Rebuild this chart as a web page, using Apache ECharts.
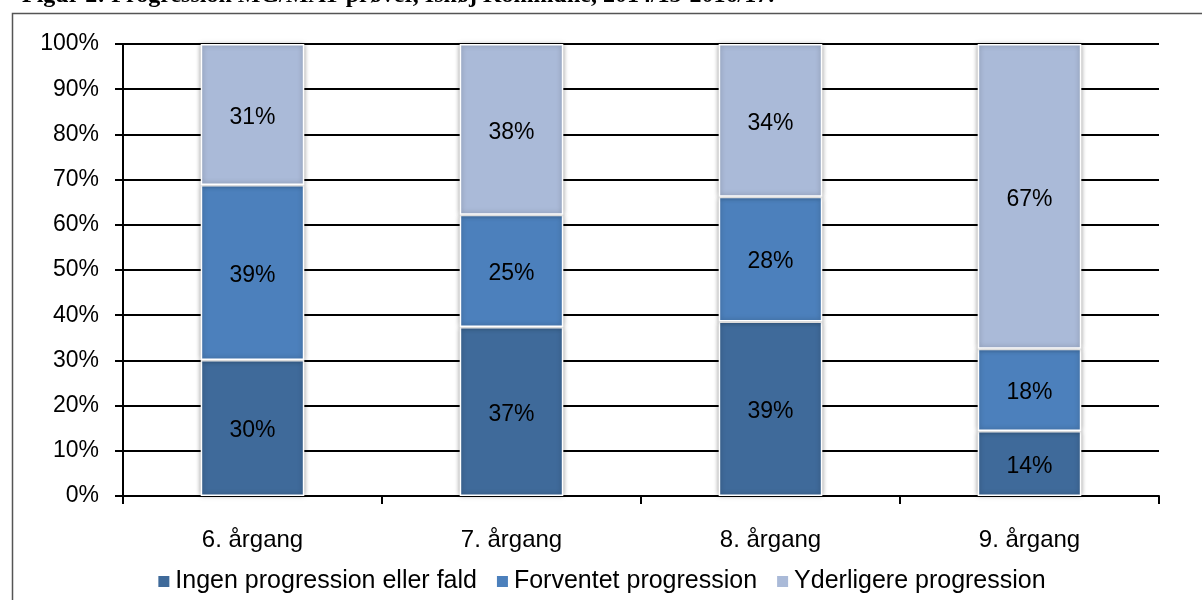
<!DOCTYPE html>
<html>
<head>
<meta charset="utf-8">
<script src="https://cdn.jsdelivr.net/npm/echarts@6/dist/echarts.min.js"></script>
<style>
  html, body { margin: 0; padding: 0; background: #fff; }
  #progression { width: 1202px; height: 600px; }
</style>
</head>
<body>
<div id="progression"></div>
<script>
// data (shares in %, each column sums to 100)
const categories = ['6. årgang', '7. årgang', '8. årgang', '9. årgang']
const ingenProgression = [30.1, 37.4, 38.6, 14.4]
const forventetProgression = [38.7, 24.8, 27.6, 18.2]
const yderligereProgression = [31.2, 37.8, 33.8, 67.4]
const seriesNames = ['Ingen progression eller fald', 'Forventet progression', 'Yderligere progression']
const titleText = 'Figur 2: Progression MG/MAT-prøver, Ishøj Kommune, 2014/15-2016/17.'

const font = 'Liberation Sans'
const colors = ['#3F6A9A', '#4C80BC', '#AABAD8']

function barSeries (name, data, color) {
  return {
    name: name,
    type: 'bar',
    stack: 'total',
    barWidth: '40%',
    data: data,
    itemStyle: {
      color: color,
      borderColor: '#fff',
      borderWidth: 1.5,
      shadowColor: 'rgba(0,0,0,0.35)',
      shadowBlur: 5
    },
    label: {
      show: true,
      position: 'inside',
      offset: [0, 3],
      color: '#000',
      fontFamily: font,
      fontSize: 23,
      formatter: p => Math.round(p.value) + '%'
    }
  }
}

const myChart = echarts.init(document.getElementById('progression'))
const option = {
  animation: false,
  color: colors,
  graphic: [
    {
      type: 'rect',
      shape: { x: 12.5, y: 13.5, width: 1200, height: 600 },
      style: { fill: 'none', stroke: '#555', lineWidth: 1.5 },
      z: -1
    },
    {
      type: 'text',
      x: 22,
      y: -16,
      style: {
        text: titleText,
        fill: '#000',
        fontFamily: 'Liberation Serif',
        fontWeight: 'bold',
        fontSize: 24
      }
    }
  ],
  legend: {
    bottom: 1,
    left: 'center',
    itemWidth: 13,
    itemHeight: 13,
    itemGap: 18,
    icon: 'rect',
    textStyle: { fontFamily: font, fontSize: 25, color: '#000' },
    data: seriesNames
  },
  grid: {
    left: 123,
    right: 43,
    top: 44,
    bottom: 104
  },
  xAxis: {
    type: 'category',
    data: categories,
    axisLine: { lineStyle: { color: '#000', width: 2 } },
    axisTick: { show: true, length: 8, lineStyle: { color: '#000', width: 2 } },
    axisLabel: { margin: 32, color: '#000', fontFamily: font, fontSize: 24 }
  },
  yAxis: {
    type: 'value',
    min: 0,
    max: 100,
    interval: 10,
    axisLine: { show: true, lineStyle: { color: '#000', width: 2 } },
    axisTick: { show: true, length: 8, lineStyle: { color: '#000', width: 2 } },
    axisLabel: { margin: 24, color: '#000', fontFamily: font, fontSize: 23, formatter: '{value}%' },
    splitLine: { lineStyle: { color: '#000', width: 2 } }
  },
  series: [
    barSeries(seriesNames[0], ingenProgression, colors[0]),
    barSeries(seriesNames[1], forventetProgression, colors[1]),
    barSeries(seriesNames[2], yderligereProgression, colors[2])
  ]
}
option && myChart.setOption(option)
</script>
</body>
</html>
